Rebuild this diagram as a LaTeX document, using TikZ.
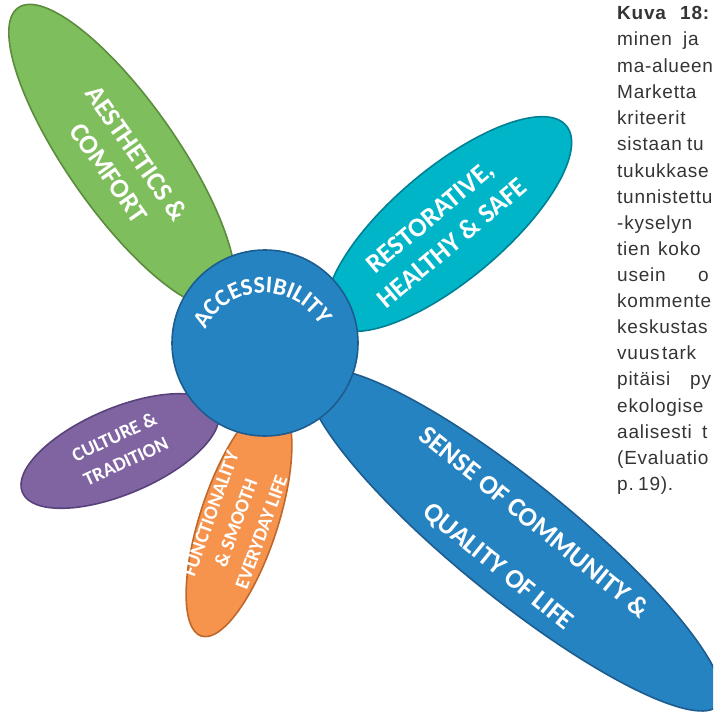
\documentclass[tikz,border=0pt]{standalone}
\usepackage{fontspec}
\newfontfamily\petalfont{Carlito}
\newfontfamily\capfont[LetterSpace=4]{Liberation Sans}
\usetikzlibrary{shapes.geometric,decorations.text}

\definecolor{greenfill}{RGB}{127,190,92}
\definecolor{greenline}{RGB}{92,140,62}
\definecolor{cyanfill}{RGB}{0,181,200}
\definecolor{cyanline}{RGB}{0,128,148}
\definecolor{bluefill}{RGB}{38,131,194}
\definecolor{blueline}{RGB}{28,92,142}
\definecolor{purplefill}{RGB}{128,100,162}
\definecolor{purpleline}{RGB}{88,66,122}
\definecolor{orangefill}{RGB}{246,148,78}
\definecolor{orangeline}{RGB}{192,104,44}
\definecolor{captiongray}{RGB}{52,52,52}

\tikzset{
  petal/.style={ellipse,line width=1.6pt,inner sep=0pt},
  bigtext/.style={text=white,align=center,inner sep=0pt,font=\petalfont\bfseries\fontsize{27}{34}\selectfont},
  smalltext/.style={text=white,align=center,inner sep=0pt,font=\petalfont\bfseries\fontsize{19.5}{27}\selectfont},
  captext/.style={anchor=base west,inner sep=0pt,text=captiongray,font=\capfont\fontsize{19}{21}\selectfont}
}

\begin{document}
\begin{tikzpicture}[x=1pt,y=-1pt]
  \useasboundingbox (0,0) rectangle (713,717);
  \clip (0,0) rectangle (713,717);

  % petals
  \node[petal,draw=greenline,fill=greenfill,minimum width=362pt,minimum height=110pt,rotate=-55] (aesthetics) at (122,156) {};
  \node[petal,draw=cyanline,fill=cyanfill,minimum width=306pt,minimum height=112pt,rotate=40] (restorative) at (449,224) {};
  \node[petal,draw=blueline,fill=bluefill,minimum width=524pt,minimum height=116pt,rotate=-39] (community) at (515,540) {};
  \node[petal,draw=purpleline,fill=purplefill,minimum width=212pt,minimum height=86pt,rotate=23] (culture) at (120,451) {};
  \node[petal,draw=orangeline,fill=orangefill,minimum width=244pt,minimum height=78pt,rotate=72] (function) at (239,520) {};

  % centre
  \node[circle,draw=blueline,fill=bluefill,line width=1.6pt,minimum size=186pt,inner sep=0pt] (hub) at (265,343) {};
  \coordinate (arcmid) at (264,358);
  \path[decorate,decoration={text along path,text align=center,text color=white,
    text={|\petalfont\bfseries\fontsize{24}{24}\selectfont|ACCESSIBILITY}}]
    ([shift={(-155:65)}]arcmid) arc[start angle=-155,end angle=-29,radius=65];

  % labels
  \node[bigtext,rotate=-55] (aesthetics-text) at (123,163) {AESTHETICS \&\\COMFORT};
  \node[bigtext,rotate=40] (restorative-text) at (441,230) {RESTORATIVE,\\HEALTHY \& SAFE};
  \node[bigtext,rotate=-39] (community-text) at (516,545) {SENSE OF COMMUNITY \&\\[23pt]QUALITY OF LIFE};
  \node[smalltext,rotate=25] (culture-text) at (120,449) {CULTURE \&\\TRADITION};
  \node[smalltext,rotate=70] (function-text) at (236,523) {FUNCTIONALITY\\\& SMOOTH\\EVERYDAY LIFE};

  % caption
  \node[captext] (cap1) at (617,20) {\bfseries\makebox[63pt][l]{Kuva}18:};
  \node[captext] (cap2) at (617,46) {\makebox[66pt][l]{minen}ja};
  \node[captext] (cap3) at (617,72) {ma-alueen};
  \node[captext] (cap4) at (617,98) {Marketta};
  \node[captext] (cap5) at (617,124) {kriteerit};
  \node[captext] (cap6) at (617,150) {\makebox[70pt][l]{sistaan}tu};
  \node[captext] (cap7) at (617,177) {tukukkase};
  \node[captext] (cap8) at (617,203) {tunnistettu};
  \node[captext] (cap9) at (617,229) {-kyselyn};
  \node[captext] (cap10) at (617,255) {\makebox[41pt][l]{tien}koko};
  \node[captext] (cap11) at (617,281) {\makebox[81pt][l]{usein}o};
  \node[captext] (cap12) at (617,307) {kommente};
  \node[captext] (cap13) at (617,333) {keskustas};
  \node[captext] (cap14) at (617,359) {\makebox[45pt][l]{vuus}tark};
  \node[captext] (cap15) at (617,385) {\makebox[73pt][l]{pitäisi}py};
  \node[captext] (cap16) at (617,412) {ekologise};
  \node[captext] (cap17) at (617,438) {\makebox[85pt][l]{aalisesti}t};
  \node[captext] (cap18) at (617,464) {(Evaluatio};
  \node[captext] (cap19) at (617,490) {\makebox[21pt][l]{p.}19).};
\end{tikzpicture}
\end{document}
